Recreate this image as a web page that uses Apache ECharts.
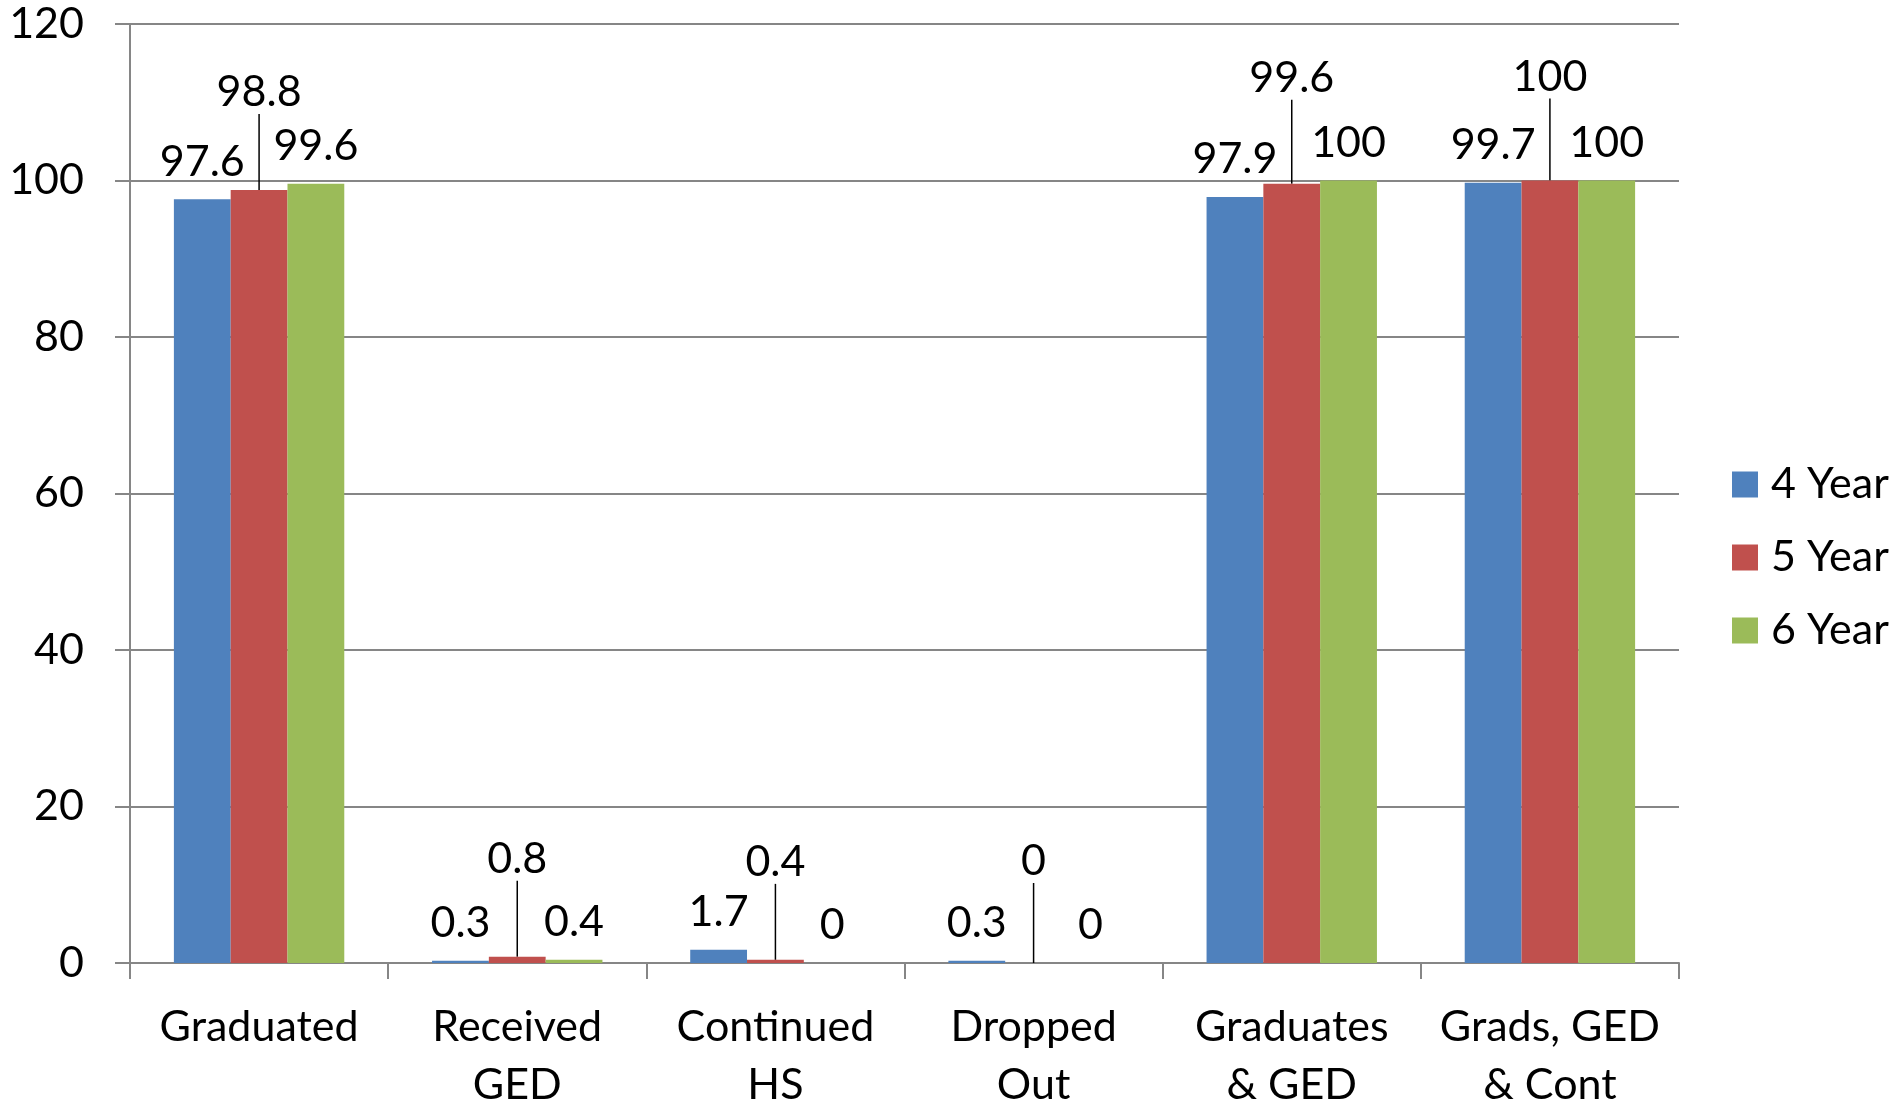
<!DOCTYPE html>
<html>
<head>
<meta charset="utf-8">
<script src="https://cdn.jsdelivr.net/npm/echarts@6/dist/echarts.min.js"></script>
<style>
html,body{margin:0;padding:0;background:#fff;}
#chart{width:1891px;height:1104px;}
</style>
</head>
<body>
<div id="chart"></div>
<script>
const categories = ['Graduated', 'Received\nGED', 'Continued\nHS', 'Dropped\nOut', 'Graduates\n& GED', 'Grads, GED\n& Cont'];
const seriesNames = ['4 Year', '5 Year', '6 Year'];
const year4 = [97.6, 0.3, 1.7, 0.3, 97.9, 99.7];
const year5 = [98.8, 0.8, 0.4, 0, 99.6, 100];
const year6 = [99.6, 0.4, 0, 0, 100, 100];
const yTicks = [0, 20, 40, 60, 80, 100, 120];

// styling: how far each raised "5 Year" label is lifted (px)
const raisedLabelLift = [48, 48, 48, 52, 56, 54];

const FONT = 'Lato';
const colors = ['#4F81BD', '#C0504D', '#9BBB59'];
const values = [year4, year5, year6];

const chart = echarts.init(document.getElementById('chart'), null, {renderer: 'canvas'});

const series = values.map((vals, i) => {
  const s = {
    name: seriesNames[i],
    type: 'bar',
    data: vals,
    barGap: '0%',
    barCategoryGap: '34%',
    itemStyle: {color: colors[i]},
    label: {
      show: true,
      position: 'top',
      distance: 16,
      color: '#000',
      fontFamily: FONT,
      fontSize: 43
    }
  };
  if (i === 1) {
    s.label.padding = [0, 0, 12, 0];
    s.labelLayout = (p) => ({dy: -raisedLabelLift[p.dataIndex]});
    s.labelLine = {show: true, length2: 0, smooth: false, lineStyle: {color: '#000', width: 1.5}};
  }
  return s;
});

chart.setOption({
  animation: false,
  backgroundColor: '#fff',
  color: colors,
  grid: {left: 130, right: 212, top: 24, bottom: 141, containLabel: false, outerBoundsMode: 'none'},
  legend: {
    orient: 'vertical',
    left: 1727,
    top: 458,
    itemWidth: 26,
    itemHeight: 26,
    itemGap: 30,
    icon: 'rect',
    textStyle: {fontFamily: FONT, fontSize: 43, color: '#000', padding: [0, 0, 0, 8]},
    data: seriesNames
  },
  xAxis: {
    type: 'category',
    data: categories,
    axisLine: {lineStyle: {color: '#868686', width: 2}},
    axisTick: {show: true, length: 16, lineStyle: {color: '#868686', width: 2}},
    axisLabel: {fontFamily: FONT, fontSize: 43, color: '#000', margin: 35, lineHeight: 58, interval: 0}
  },
  yAxis: {
    type: 'value',
    min: yTicks[0],
    max: yTicks[yTicks.length - 1],
    interval: yTicks[1] - yTicks[0],
    axisLine: {show: true, lineStyle: {color: '#868686', width: 2}},
    axisTick: {show: true, length: 15, lineStyle: {color: '#868686', width: 2}},
    splitLine: {lineStyle: {color: '#868686', width: 2}},
    axisLabel: {fontFamily: FONT, fontSize: 43, color: '#000', margin: 46}
  },
  series: series
});
</script>
</body>
</html>
